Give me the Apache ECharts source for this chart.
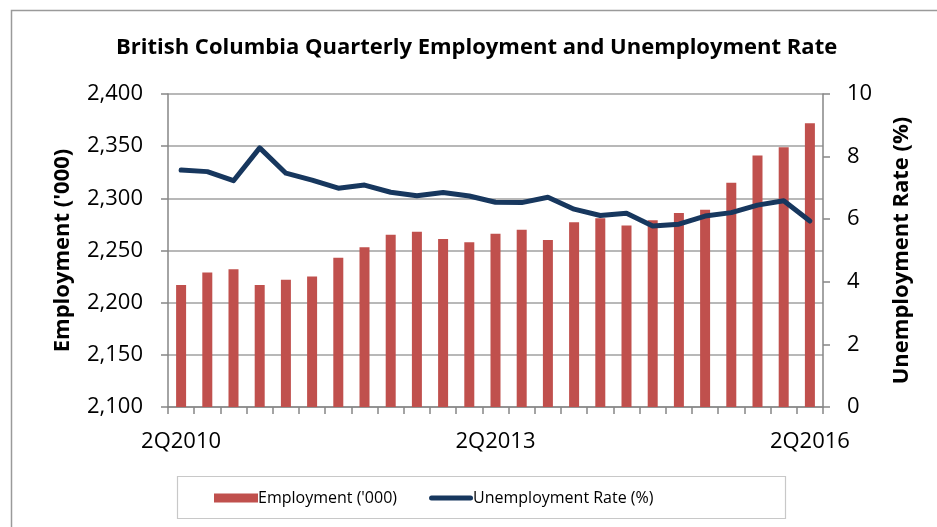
<!DOCTYPE html>
<html>
<head>
<meta charset="utf-8">
<script src="https://cdn.jsdelivr.net/npm/echarts@6/dist/echarts.min.js"></script>
<style>
html,body{margin:0;padding:0;background:#fff;}
#c{width:937px;height:527px;}
</style>
</head>
<body>
<div id="c"></div>
<script>
const categories = ['2Q2010','3Q2010','4Q2010','1Q2011','2Q2011','3Q2011','4Q2011','1Q2012','2Q2012','3Q2012','4Q2012','1Q2013','2Q2013','3Q2013','4Q2013','1Q2014','2Q2014','3Q2014','4Q2014','1Q2015','2Q2015','3Q2015','4Q2015','1Q2016','2Q2016'];
const employment = [2217,2229,2232,2217,2222,2225,2243,2253,2265,2268,2261,2258,2266,2270,2260,2277,2281,2274,2279,2286,2289,2315,2341,2349,2372];
const unemploymentRate = [7.57,7.52,7.23,8.28,7.47,7.25,6.99,7.09,6.86,6.75,6.85,6.74,6.54,6.53,6.70,6.32,6.12,6.19,5.78,5.84,6.10,6.21,6.45,6.59,5.94];
const leftTicks = {min:2100,max:2400,interval:50};
const rightTicks = {min:0,max:10,interval:2};

const FONT = 'Open Sans';
const lineIcon = 'path://M0,0 L0,0 M2.5,2 L41.5,2 A2.5,2.5 0 0 1 41.5,7 L2.5,7 A2.5,2.5 0 0 1 2.5,2 Z M44,9 L44,9';
const chart = echarts.init(document.getElementById('c'), null, {renderer:'canvas'});
chart.setOption({
  animation:false,
  backgroundColor:'#ffffff',
  textStyle:{fontFamily:FONT},
  title:{
    text:'British Columbia Quarterly Employment and Unemployment Rate',
    left:111, top:32,
    textStyle:{fontFamily:FONT,fontWeight:'bold',fontSize:22,color:'#000'}
  },
  graphic:[
    {type:'rect',left:9,top:8,shape:{width:940,height:540},style:{fill:'none',stroke:'#9a9a9a',lineWidth:1.5},silent:true},
    {type:'rect',left:175,top:474,shape:{width:608,height:42},style:{fill:'none',stroke:'#c8c8c8',lineWidth:1.2},silent:true}
  ],
  legend:{
    left:209, top:485, itemGap:32, itemWidth:44, itemHeight:9,
    textStyle:{fontFamily:FONT,fontSize:16,color:'#000',padding:[0,0,0,-5]},
    data:[{name:"Employment ('000)",icon:'rect'},{name:'Unemployment Rate (%)',icon:lineIcon}]
  },
  grid:{left:168,right:114,top:94,bottom:120,containLabel:false},
  xAxis:{
    type:'category', data:categories, boundaryGap:true,
    axisLine:{lineStyle:{color:'#868686',width:1.5}},
    axisTick:{show:true,alignWithLabel:false,interval:0,length:7,lineStyle:{color:'#868686',width:1.5}},
    axisLabel:{interval:11,margin:24,fontFamily:FONT,fontSize:22,color:'#000'}
  },
  yAxis:[
    {type:'value',min:leftTicks.min,max:leftTicks.max,interval:leftTicks.interval,position:'left',
     name:"Employment ('000)",nameLocation:'middle',nameGap:94,
     nameTextStyle:{fontFamily:FONT,fontWeight:'bold',fontSize:22,color:'#000'},
     axisLine:{show:true,lineStyle:{color:'#868686',width:1.5}},
     axisTick:{show:true,length:7,lineStyle:{color:'#868686',width:1.5}},
     axisLabel:{margin:25,fontFamily:FONT,fontSize:22,color:'#000',
       formatter:v=>v.toLocaleString('en-US')},
     splitLine:{show:true,lineStyle:{color:'#a0a0a0',width:1.5}}
    },
    {type:'value',min:rightTicks.min,max:rightTicks.max,interval:rightTicks.interval,position:'right',
     name:'Unemployment Rate (%)',nameLocation:'middle',nameGap:68,
     nameTextStyle:{fontFamily:FONT,fontWeight:'bold',fontSize:22,color:'#000'},
     axisLine:{show:true,lineStyle:{color:'#868686',width:1.5}},
     axisTick:{show:true,length:7,lineStyle:{color:'#868686',width:1.5}},
     axisLabel:{margin:24,fontFamily:FONT,fontSize:22,color:'#000'},
     splitLine:{show:false}
    }
  ],
  series:[
    {name:"Employment ('000)",type:'bar',yAxisIndex:0,data:employment,barWidth:10,
     itemStyle:{color:'#C0504D'}},
    {name:'Unemployment Rate (%)',type:'line',yAxisIndex:1,data:unemploymentRate,
     symbol:'none',lineStyle:{color:'#17375E',width:5,cap:'round',join:'round'},itemStyle:{color:'#17375E'}}
  ]
});
</script>
</body>
</html>
